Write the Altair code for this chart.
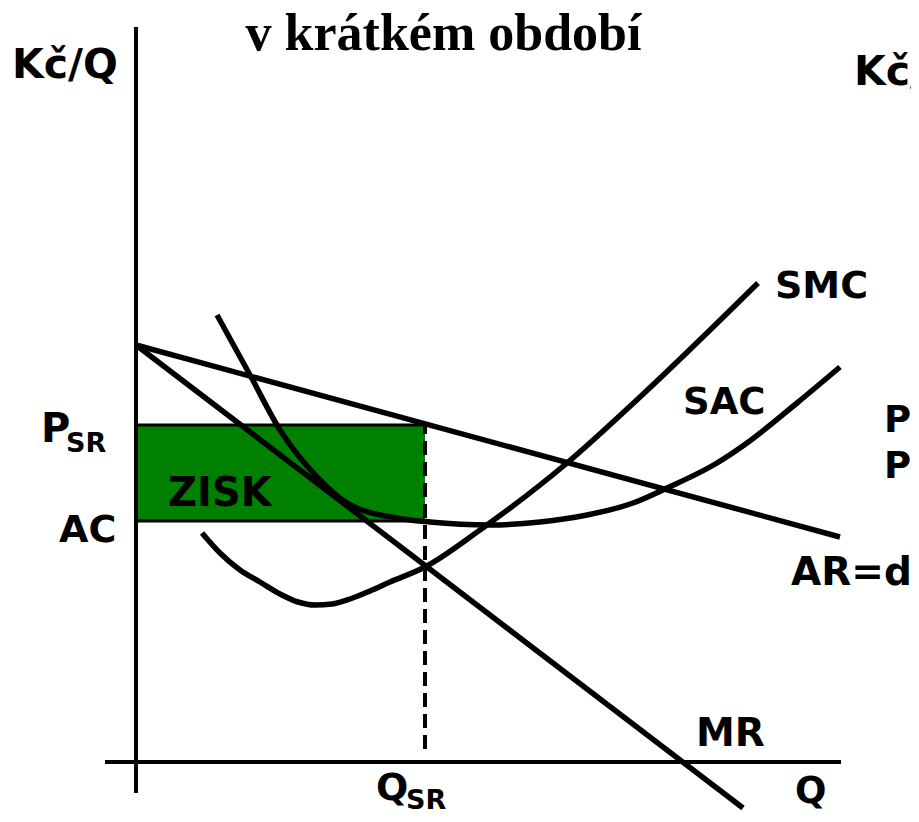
import altair as alt
import pandas as pd

# ---- data (Q on horizontal axis, price Kč/Q on vertical axis) ----
ar_q = [0, 704]
ar_p = [417, 225]
mr_q = [0, 607]
mr_p = [417, -46]
smc_q = [66, 84, 104, 124, 144, 162, 179, 196, 214, 234, 254, 289, 344, 431, 504, 622]
smc_p = [229, 209, 192, 180, 168, 160, 157, 158, 163, 171, 180, 195, 232, 299, 365, 479]
sac_q = [81, 114, 144, 181, 211, 261, 294, 354, 404, 451, 497, 531, 581, 611, 661, 704]
sac_p = [447, 387, 332, 285, 259, 244, 240, 237, 240, 247, 259, 274, 299, 319, 359, 395]
q_sr = 289
p_sr = 337
ac_level = 241

label_text = ["Kč/Q", "Kč/", "SMC", "SAC", "AR=d", "MR", "Q", "P", "SR", "AC", "ZISK", "Q", "SR", "P", "P"]
label_q = [-124, 718, 639, 547, 655, 560, 659, -95, -70, -77, 32, 240, 270, 748, 748]
label_p = [684, 677, 464, 348, 177, 16, -41, 320, 310, 220, 256, -38, -47, 330, 284]
label_fs = [41, 41, 38, 37, 39, 39, 37, 40, 27, 38, 40, 38, 27, 37, 37]

title_text = "v krátkém období"

# ---- build tables ----
rows = []
for name, qs, ps in [("AR", ar_q, ar_p), ("MR", mr_q, mr_p), ("SMC", smc_q, smc_p), ("SAC", sac_q, sac_p)]:
    for i, (q, p) in enumerate(zip(qs, ps)):
        rows.append({"curve": name, "i": i, "q": q, "p": p})
curves = pd.DataFrame(rows)

xs = alt.Scale(domain=[-128, 775], nice=False, zero=False)
ys = alt.Scale(domain=[-52, 754], nice=False, zero=False)

X = lambda f="q": alt.X(f"{f}:Q", scale=xs, axis=None)
Y = lambda f="p": alt.Y(f"{f}:Q", scale=ys, axis=None)

profit = alt.Chart(pd.DataFrame([{"q": 0, "q2": q_sr, "p": ac_level, "p2": p_sr}])).mark_rect(
    color="#008000"
).encode(x=X(), x2="q2:Q", y=Y(), y2="p2:Q")

borders = alt.Chart(pd.DataFrame([
    {"q": 0, "q2": q_sr, "p": p_sr, "p2": p_sr},
    {"q": 0, "q2": q_sr, "p": ac_level, "p2": ac_level},
])).mark_rule(color="black", strokeWidth=3).encode(x=X(), x2="q2:Q", y=Y(), y2="p2:Q")

axes = alt.Chart(pd.DataFrame([
    {"q": 0, "q2": 0, "p": -31, "p2": 735},
    {"q": -31, "q2": 705, "p": 0, "p2": 0},
])).mark_rule(color="black", strokeWidth=4).encode(x=X(), x2="q2:Q", y=Y(), y2="p2:Q")

dashed = alt.Chart(pd.DataFrame([{"q": q_sr, "q2": q_sr, "p": 13, "p2": p_sr}])).mark_rule(
    color="black", strokeWidth=4, strokeDash=[14, 7]
).encode(x=X(), x2="q2:Q", y=Y(), y2="p2:Q")

lines = alt.Chart(curves).mark_line(color="black", strokeWidth=5.5, interpolate="monotone").encode(
    x=X(), y=Y(), detail="curve:N", order="i:Q"
)

labels = alt.Chart(pd.DataFrame({"q": label_q, "p": label_p, "t": label_text, "fs": label_fs})).mark_text(
    align="left", baseline="alphabetic", font="DejaVu Sans", fontWeight="bold", color="black"
).encode(x=X(), y=Y(), text="t:N", size=alt.Size("fs:Q", scale=None))

title = alt.Chart(pd.DataFrame([{"q": 307.5, "p": 712, "t": title_text}])).mark_text(
    align="center", baseline="alphabetic", font="Liberation Serif", fontWeight="bold", fontSize=52, color="black"
).encode(x=X(), y=Y(), text="t:N")

chart = alt.layer(profit, borders, axes, dashed, lines, labels, title).properties(
    width=903, height=806, autosize=alt.AutoSizeParams(type="none"), padding=0, background="white"
).configure_view(stroke=None)

chart.save("out.html", embed_options={"renderer": "svg", "actions": False})
